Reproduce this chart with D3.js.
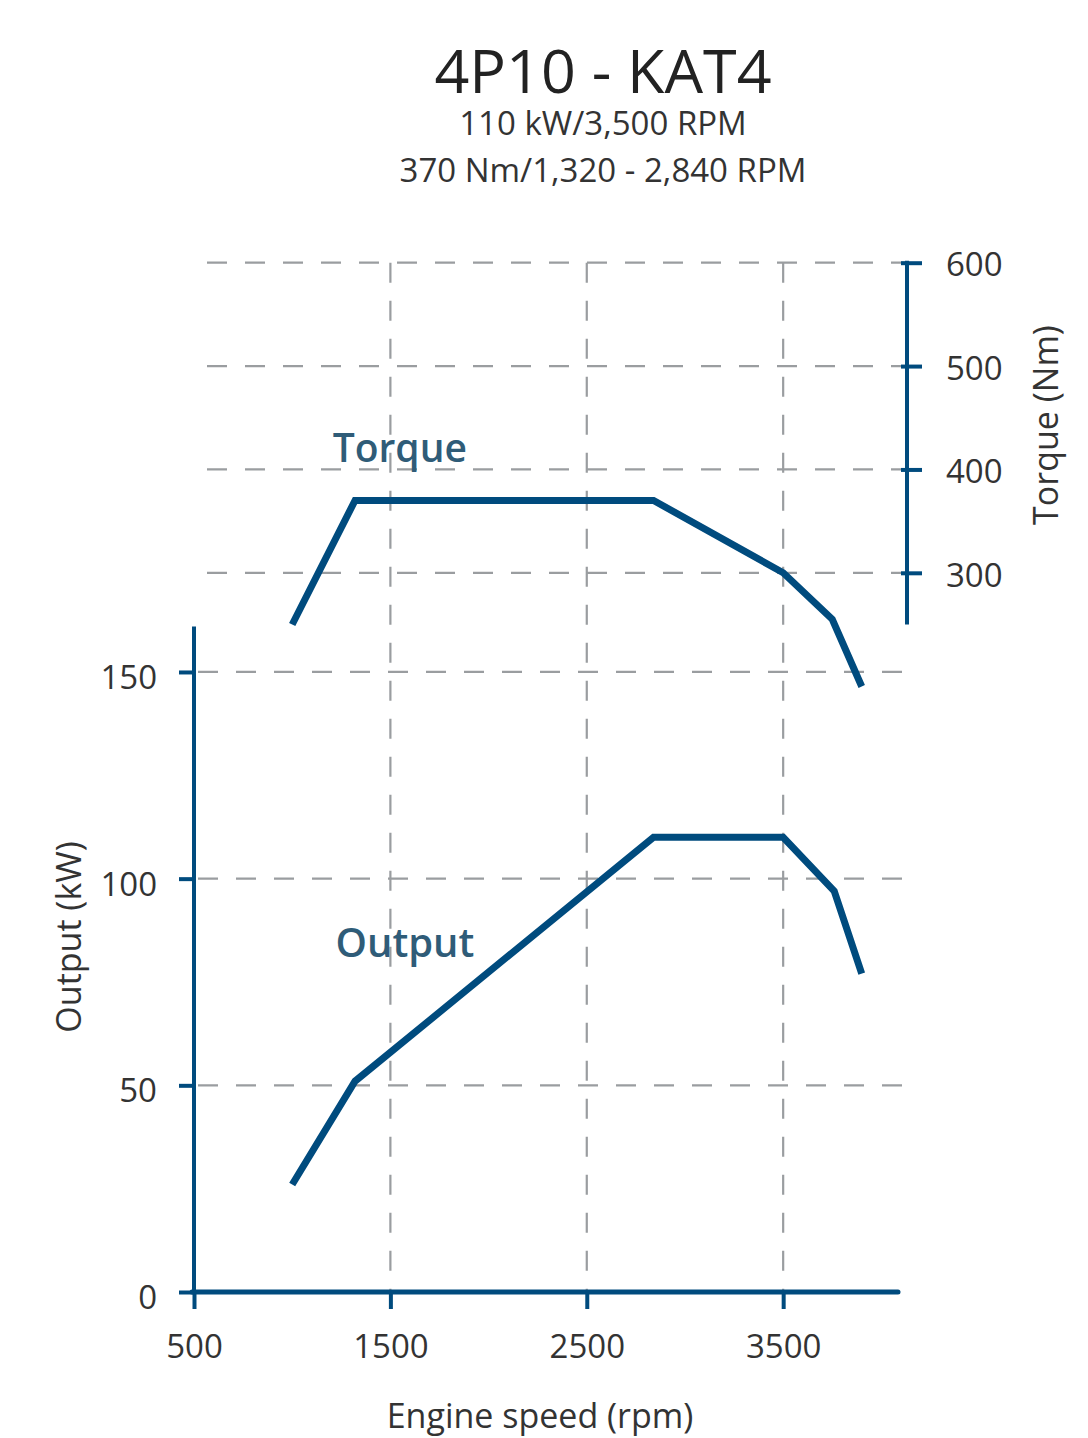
<!DOCTYPE html>
<html lang="en">
<head>
    <meta charset="UTF-8">
    <script src="https://d3js.org/d3.v7.min.js"></script>
    <title>4P10 - KAT4</title>
    <style>
        body {
            margin: 0;
            overflow: hidden;
            background: white;
        }

        text {
            font-family: "Open Sans", sans-serif;
            fill: #333;
        }
    </style>
</head>
<body>
    <script>
        // engine speed (rpm)
        const torqueRpm = [1000, 1320, 2840, 3500, 3750, 3900];
        const torqueNm  = [250, 370, 370, 300, 255, 190];

        const outputRpm = [1000, 1320, 2840, 3500, 3760, 3900];
        const outputKw  = [26, 51, 110, 110, 97, 77];

        const rpmTicks = [500, 1500, 2500, 3500];
        const kwTicks = [0, 50, 100, 150];
        const nmTicks = [300, 400, 500, 600];

        const title = "4P10 - KAT4";
        const subtitles = ["110 kW/3,500 RPM", "370 Nm/1,320 - 2,840 RPM"];

        const width = 1088,
              height = 1438;

        const blue = "#004b7e";
        const gridColor = "#9a9da0";

        const svg = d3.select('body')
            .append('svg')
            .attr('width', width)
            .attr('height', height);

        const x = d3.scaleLinear()
            .domain([500, 4100])
            .range([194, 901]);

        const yKw = d3.scaleLinear()
            .domain([0, 161])
            .range([1292, 626.5]);

        const yNm = d3.scaleLinear()
            .domain([250, 600])
            .range([624.5, 262.7]);

        // grid
        const grid = svg.append('g')
            .attr('stroke', gridColor)
            .attr('stroke-width', 2.2)
            .attr('stroke-dasharray', '20,18');

        grid.selectAll('.vgrid')
            .data(rpmTicks.filter(d => d > 500))
            .enter()
            .append('line')
            .attr('x1', d => x(d))
            .attr('x2', d => x(d))
            .attr('y1', yNm(600))
            .attr('y2', yKw(0));

        grid.selectAll('.kgrid')
            .data(kwTicks.filter(d => d > 0))
            .enter()
            .append('line')
            .attr('x1', x(500) + 4)
            .attr('x2', 906)
            .attr('y1', d => yKw(d))
            .attr('y2', d => yKw(d));

        grid.selectAll('.ngrid')
            .data(nmTicks)
            .enter()
            .append('line')
            .attr('x1', 207)
            .attr('x2', 906)
            .attr('y1', d => yNm(d))
            .attr('y2', d => yNm(d));

        // curves
        const torqueData = torqueRpm.map((r, i) => ({ rpm: r, v: torqueNm[i] }));
        const outputData = outputRpm.map((r, i) => ({ rpm: r, v: outputKw[i] }));

        svg.append('path')
            .datum(torqueData)
            .attr('fill', 'none')
            .attr('stroke', blue)
            .attr('stroke-width', 7)
            .attr('d', d3.line().x(d => x(d.rpm)).y(d => yNm(d.v)));

        svg.append('path')
            .datum(outputData)
            .attr('fill', 'none')
            .attr('stroke', blue)
            .attr('stroke-width', 7)
            .attr('d', d3.line().x(d => x(d.rpm)).y(d => yKw(d.v)));

        // axes
        const styleAxis = (g) => {
            g.select('.domain').remove();
            g.selectAll('.tick line')
              .attr('stroke', blue)
              .attr('stroke-width', 4);
            g.selectAll('.tick text')
              .style('font-size', '33px')
              .style('font-family', '"Open Sans", sans-serif')
              .attr('fill', '#333');
        };

        const xAxisGroup = svg.append('g')
            .attr('transform', `translate(0, ${yKw(0)})`)
            .call(d3.axisBottom(x).tickValues(rpmTicks).tickFormat(d3.format("d"))
                .tickSize(17).tickPadding(26).tickSizeOuter(0))
            .call(styleAxis);

        svg.append('line')
            .attr('x1', x(500) - 2)
            .attr('x2', 898)
            .attr('y1', yKw(0))
            .attr('y2', yKw(0))
            .attr('stroke', blue)
            .attr('stroke-width', 5)
            .attr('stroke-linecap', 'round');

        const yAxisGroup = svg.append('g')
            .attr('transform', `translate(${x(500)}, 0)`)
            .call(d3.axisLeft(yKw).tickValues(kwTicks).tickSize(15).tickPadding(22).tickSizeOuter(0))
            .call(styleAxis);

        yAxisGroup.selectAll('.tick text').attr('dy', '0.5em');

        svg.append('line')
            .attr('x1', x(500))
            .attr('x2', x(500))
            .attr('y1', yKw(161))
            .attr('y2', yKw(0))
            .attr('stroke', blue)
            .attr('stroke-width', 4);

        const rAxisGroup = svg.append('g')
            .attr('transform', `translate(907, 0)`)
            .call(d3.axisRight(yNm).tickValues(nmTicks).tickSize(15).tickPadding(24).tickSizeOuter(0))
            .call(styleAxis);

        rAxisGroup.selectAll('.tick line').attr('x1', -6);
        rAxisGroup.selectAll('.tick text').attr('dy', '0.4em');

        svg.append('line')
            .attr('x1', 907)
            .attr('x2', 907)
            .attr('y1', yNm(600) - 2)
            .attr('y2', yNm(250))
            .attr('stroke', blue)
            .attr('stroke-width', 4);

        // titles
        svg.append('text')
            .attr('x', 603)
            .attr('y', 93)
            .attr('text-anchor', 'middle')
            .style('font-size', '61px')
            .style('fill', '#222')
            .text(title);

        svg.selectAll('.sub')
            .data(subtitles)
            .enter()
            .append('text')
            .attr('x', 603)
            .attr('y', (d, i) => 135 + i * 47)
            .attr('text-anchor', 'middle')
            .style('font-size', '33px')
            .text(d => d);

        svg.append('text')
            .attr('x', 540)
            .attr('y', 1428)
            .attr('text-anchor', 'middle')
            .style('font-size', '34px')
            .text("Engine speed (rpm)");

        svg.append('text')
            .attr('transform', 'translate(81, 937) rotate(-90)')
            .attr('text-anchor', 'middle')
            .style('font-size', '34px')
            .text("Output (kW)");

        svg.append('text')
            .attr('transform', 'translate(1058, 425) rotate(-90)')
            .attr('text-anchor', 'middle')
            .style('font-size', '34px')
            .text("Torque (Nm)");

        // series labels
        svg.append('text')
            .attr('x', x(1548))
            .attr('y', yNm(407))
            .attr('text-anchor', 'middle')
            .style('font-size', '39px')
            .style('font-weight', 600)
            .style('fill', '#2f5c78')
            .text("Torque");

        svg.append('text')
            .attr('x', x(1574))
            .attr('y', yKw(81))
            .attr('text-anchor', 'middle')
            .style('font-size', '40px')
            .style('font-weight', 600)
            .style('fill', '#2f5c78')
            .text("Output");
    </script>
</body>
</html>
